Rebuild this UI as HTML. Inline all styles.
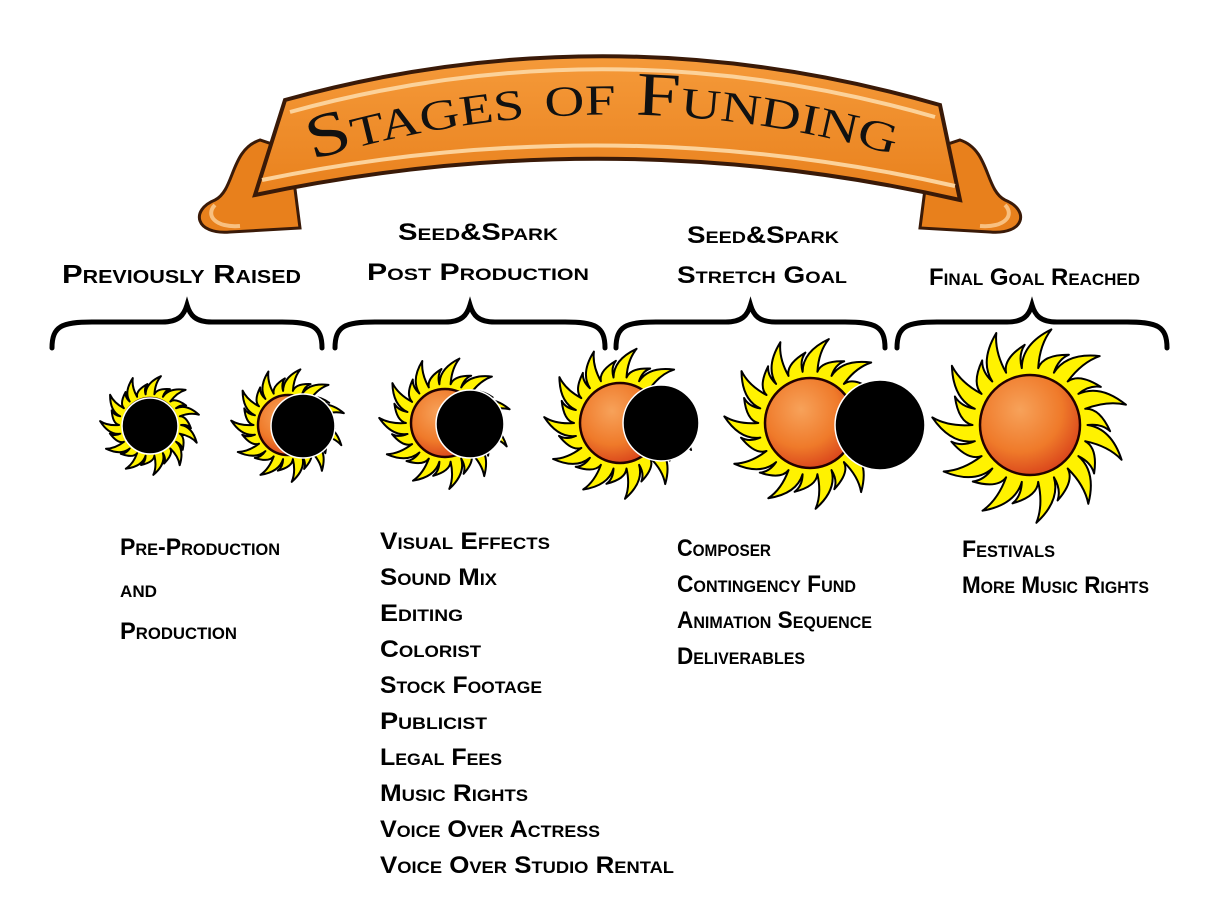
<!DOCTYPE html>
<html><head><meta charset="utf-8"><style>
body{margin:0;background:#fff;}
svg{display:block}
.t{font-family:"Liberation Sans",sans-serif;font-weight:bold;font-variant:small-caps;font-size:24px;fill:#000}
.h{font-size:26px}
</style></head><body>
<svg id="s" width="1224" height="911" viewBox="0 0 1224 911" xmlns="http://www.w3.org/2000/svg">
<defs>
<radialGradient id="core" cx="40%" cy="35%" r="70%"><stop offset="0" stop-color="#f7a25a"/><stop offset="0.6" stop-color="#ef7a2a"/><stop offset="1" stop-color="#d8401a"/></radialGradient>
<linearGradient id="rib" x1="0" y1="0" x2="0" y2="1"><stop offset="0" stop-color="#f59a3a"/><stop offset="1" stop-color="#e8801c"/></linearGradient>
</defs>
<g stroke="#3a1a08" stroke-width="3" fill="#e8801c">
<path d="M260,140 C230,150 235,190 215,200 C190,210 195,235 230,232 L300,228 L290,150 Z"/>
<path d="M960,140 C990,150 985,190 1005,200 C1030,210 1025,235 990,232 L920,228 L930,150 Z"/>
</g>
<path d="M215,205 C205,215 215,228 240,226" stroke="#f8c080" stroke-width="4" fill="none"/>
<path d="M1005,205 C1015,215 1005,228 980,226" stroke="#f8c080" stroke-width="4" fill="none"/>
<path d="M285,100 Q610,10 940,105 L960,200 Q610,120 255,195 Z" fill="url(#rib)" stroke="#3a1a08" stroke-width="4"/>
<path d="M290,112 Q610,24 935,117" stroke="#fcd29a" stroke-width="4" fill="none"/>
<path d="M262,180 Q610,108 955,186" stroke="#fcd29a" stroke-width="4" fill="none"/>
<path id="tp" d="M312,160 Q610,70 905,158" fill="none"/>
<text style="font-family:'Liberation Serif',serif;font-variant:small-caps;font-size:62px;fill:#111"><textPath href="#tp" textLength="590" lengthAdjust="spacingAndGlyphs">Stages of Funding</textPath></text>

<g id="br" stroke="#000" stroke-width="5" fill="none" stroke-linecap="round"></g>
<g id="suns"></g>

<g lengthAdjust="spacingAndGlyphs">
<text class="t h" x="62" y="283" textLength="239" lengthAdjust="spacingAndGlyphs">Previously Raised</text>
<text class="t" x="398" y="240" textLength="160" lengthAdjust="spacingAndGlyphs">Seed&amp;Spark</text>
<text class="t" x="367" y="280" textLength="222" lengthAdjust="spacingAndGlyphs">Post Production</text>
<text class="t" x="687" y="243" textLength="152" lengthAdjust="spacingAndGlyphs">Seed&amp;Spark</text>
<text class="t" x="677" y="283" textLength="170" lengthAdjust="spacingAndGlyphs">Stretch Goal</text>
<text class="t" x="929" y="285" textLength="211" lengthAdjust="spacingAndGlyphs">Final Goal Reached</text>

<text class="t" x="120" y="555" textLength="160" lengthAdjust="spacingAndGlyphs">Pre-Production</text>
<text class="t" x="120" y="597" textLength="37" lengthAdjust="spacingAndGlyphs">and</text>
<text class="t" x="120" y="639" textLength="117" lengthAdjust="spacingAndGlyphs">Production</text>

<text class="t" x="380" y="549" textLength="170" lengthAdjust="spacingAndGlyphs">Visual Effects</text>
<text class="t" x="380" y="585" textLength="117" lengthAdjust="spacingAndGlyphs">Sound Mix</text>
<text class="t" x="380" y="621" textLength="83" lengthAdjust="spacingAndGlyphs">Editing</text>
<text class="t" x="380" y="657" textLength="101" lengthAdjust="spacingAndGlyphs">Colorist</text>
<text class="t" x="380" y="693" textLength="162" lengthAdjust="spacingAndGlyphs">Stock Footage</text>
<text class="t" x="380" y="729" textLength="107" lengthAdjust="spacingAndGlyphs">Publicist</text>
<text class="t" x="380" y="765" textLength="122" lengthAdjust="spacingAndGlyphs">Legal Fees</text>
<text class="t" x="380" y="801" textLength="148" lengthAdjust="spacingAndGlyphs">Music Rights</text>
<text class="t" x="380" y="837" textLength="220" lengthAdjust="spacingAndGlyphs">Voice Over Actress</text>
<text class="t" x="380" y="873" textLength="294" lengthAdjust="spacingAndGlyphs">Voice Over Studio Rental</text>

<text class="t" x="677" y="556" textLength="94" lengthAdjust="spacingAndGlyphs">Composer</text>
<text class="t" x="677" y="592" textLength="179" lengthAdjust="spacingAndGlyphs">Contingency Fund</text>
<text class="t" x="677" y="628" textLength="195" lengthAdjust="spacingAndGlyphs">Animation Sequence</text>
<text class="t" x="677" y="664" textLength="128" lengthAdjust="spacingAndGlyphs">Deliverables</text>

<text class="t" x="962" y="557" textLength="93" lengthAdjust="spacingAndGlyphs">Festivals</text>
<text class="t" x="962" y="593" textLength="187" lengthAdjust="spacingAndGlyphs">More Music Rights</text>
</g>
</svg>
<script>
var NS="http://www.w3.org/2000/svg";
var br=document.getElementById('br');
[[52,322],[335,605],[616,885],[897,1167]].forEach(function(b){
 var x0=b[0],x1=b[1],m=(x0+x1)/2;
 var p=document.createElementNS(NS,'path');
 p.setAttribute('d','M'+x0+',348 C'+x0+',326 '+(x0+10)+',322 '+(x0+40)+',322 L'+(m-25)+',322 C'+(m-8)+',322 '+(m-3)+',315 '+m+',305 C'+(m+3)+',315 '+(m+8)+',322 '+(m+25)+',322 L'+(x1-40)+',322 C'+(x1-10)+',322 '+x1+',326 '+x1+',348');
 br.appendChild(p);
});
var g=document.getElementById('suns');
function P(cx,cy,r,a){return (cx+r*Math.cos(a)).toFixed(1)+','+(cy+r*Math.sin(a)).toFixed(1);}
function sun(cx,cy,r,R,bx,by,br2){
 var n=22,d='';
 for(var i=0;i<n;i++){
  var a0=(i/n)*2*Math.PI, a1=((i+0.5)/n)*2*Math.PI, a2=((i+1)/n)*2*Math.PI;
  var rr=R*(i%2?0.82:1), rb=r*1.15;
  var tipA=a1+0.22;
  d+=(i==0?'M':'L')+P(cx,cy,rb,a0)+' Q'+P(cx,cy,(r+rr)*0.55,a1-0.1)+' '+P(cx,cy,rr,tipA)+' Q'+P(cx,cy,(r+rr)*0.55,a1+0.12)+' '+P(cx,cy,rb,a2)+' ';
 }
 d+='Z';
 var p=document.createElementNS(NS,'path');
 p.setAttribute('d',d);p.setAttribute('fill','#fff200');p.setAttribute('stroke','#000');p.setAttribute('stroke-width','2');p.setAttribute('stroke-linejoin','round');
 g.appendChild(p);
 var c=document.createElementNS(NS,'circle');
 c.setAttribute('cx',cx);c.setAttribute('cy',cy);c.setAttribute('r',r);c.setAttribute('fill','url(#core)');c.setAttribute('stroke','#200');c.setAttribute('stroke-width','2.5');
 g.appendChild(c);
 if(br2){var k=document.createElementNS(NS,'circle');
 k.setAttribute('cx',bx);k.setAttribute('cy',by);k.setAttribute('r',br2);k.setAttribute('fill','#000');k.setAttribute('stroke','#fff');k.setAttribute('stroke-width','1.5');g.appendChild(k);}
}
sun(150,425,27,50,150,426,28);
sun(288,425,30,57,303,426,32);
sun(445,423,34,66,470,424,34);
sun(620,423,40,76,661,423,38);
sun(810,423,45,86,880,425,45);
sun(1030,425,50,98,0,0,0);
</script>
</body></html>
